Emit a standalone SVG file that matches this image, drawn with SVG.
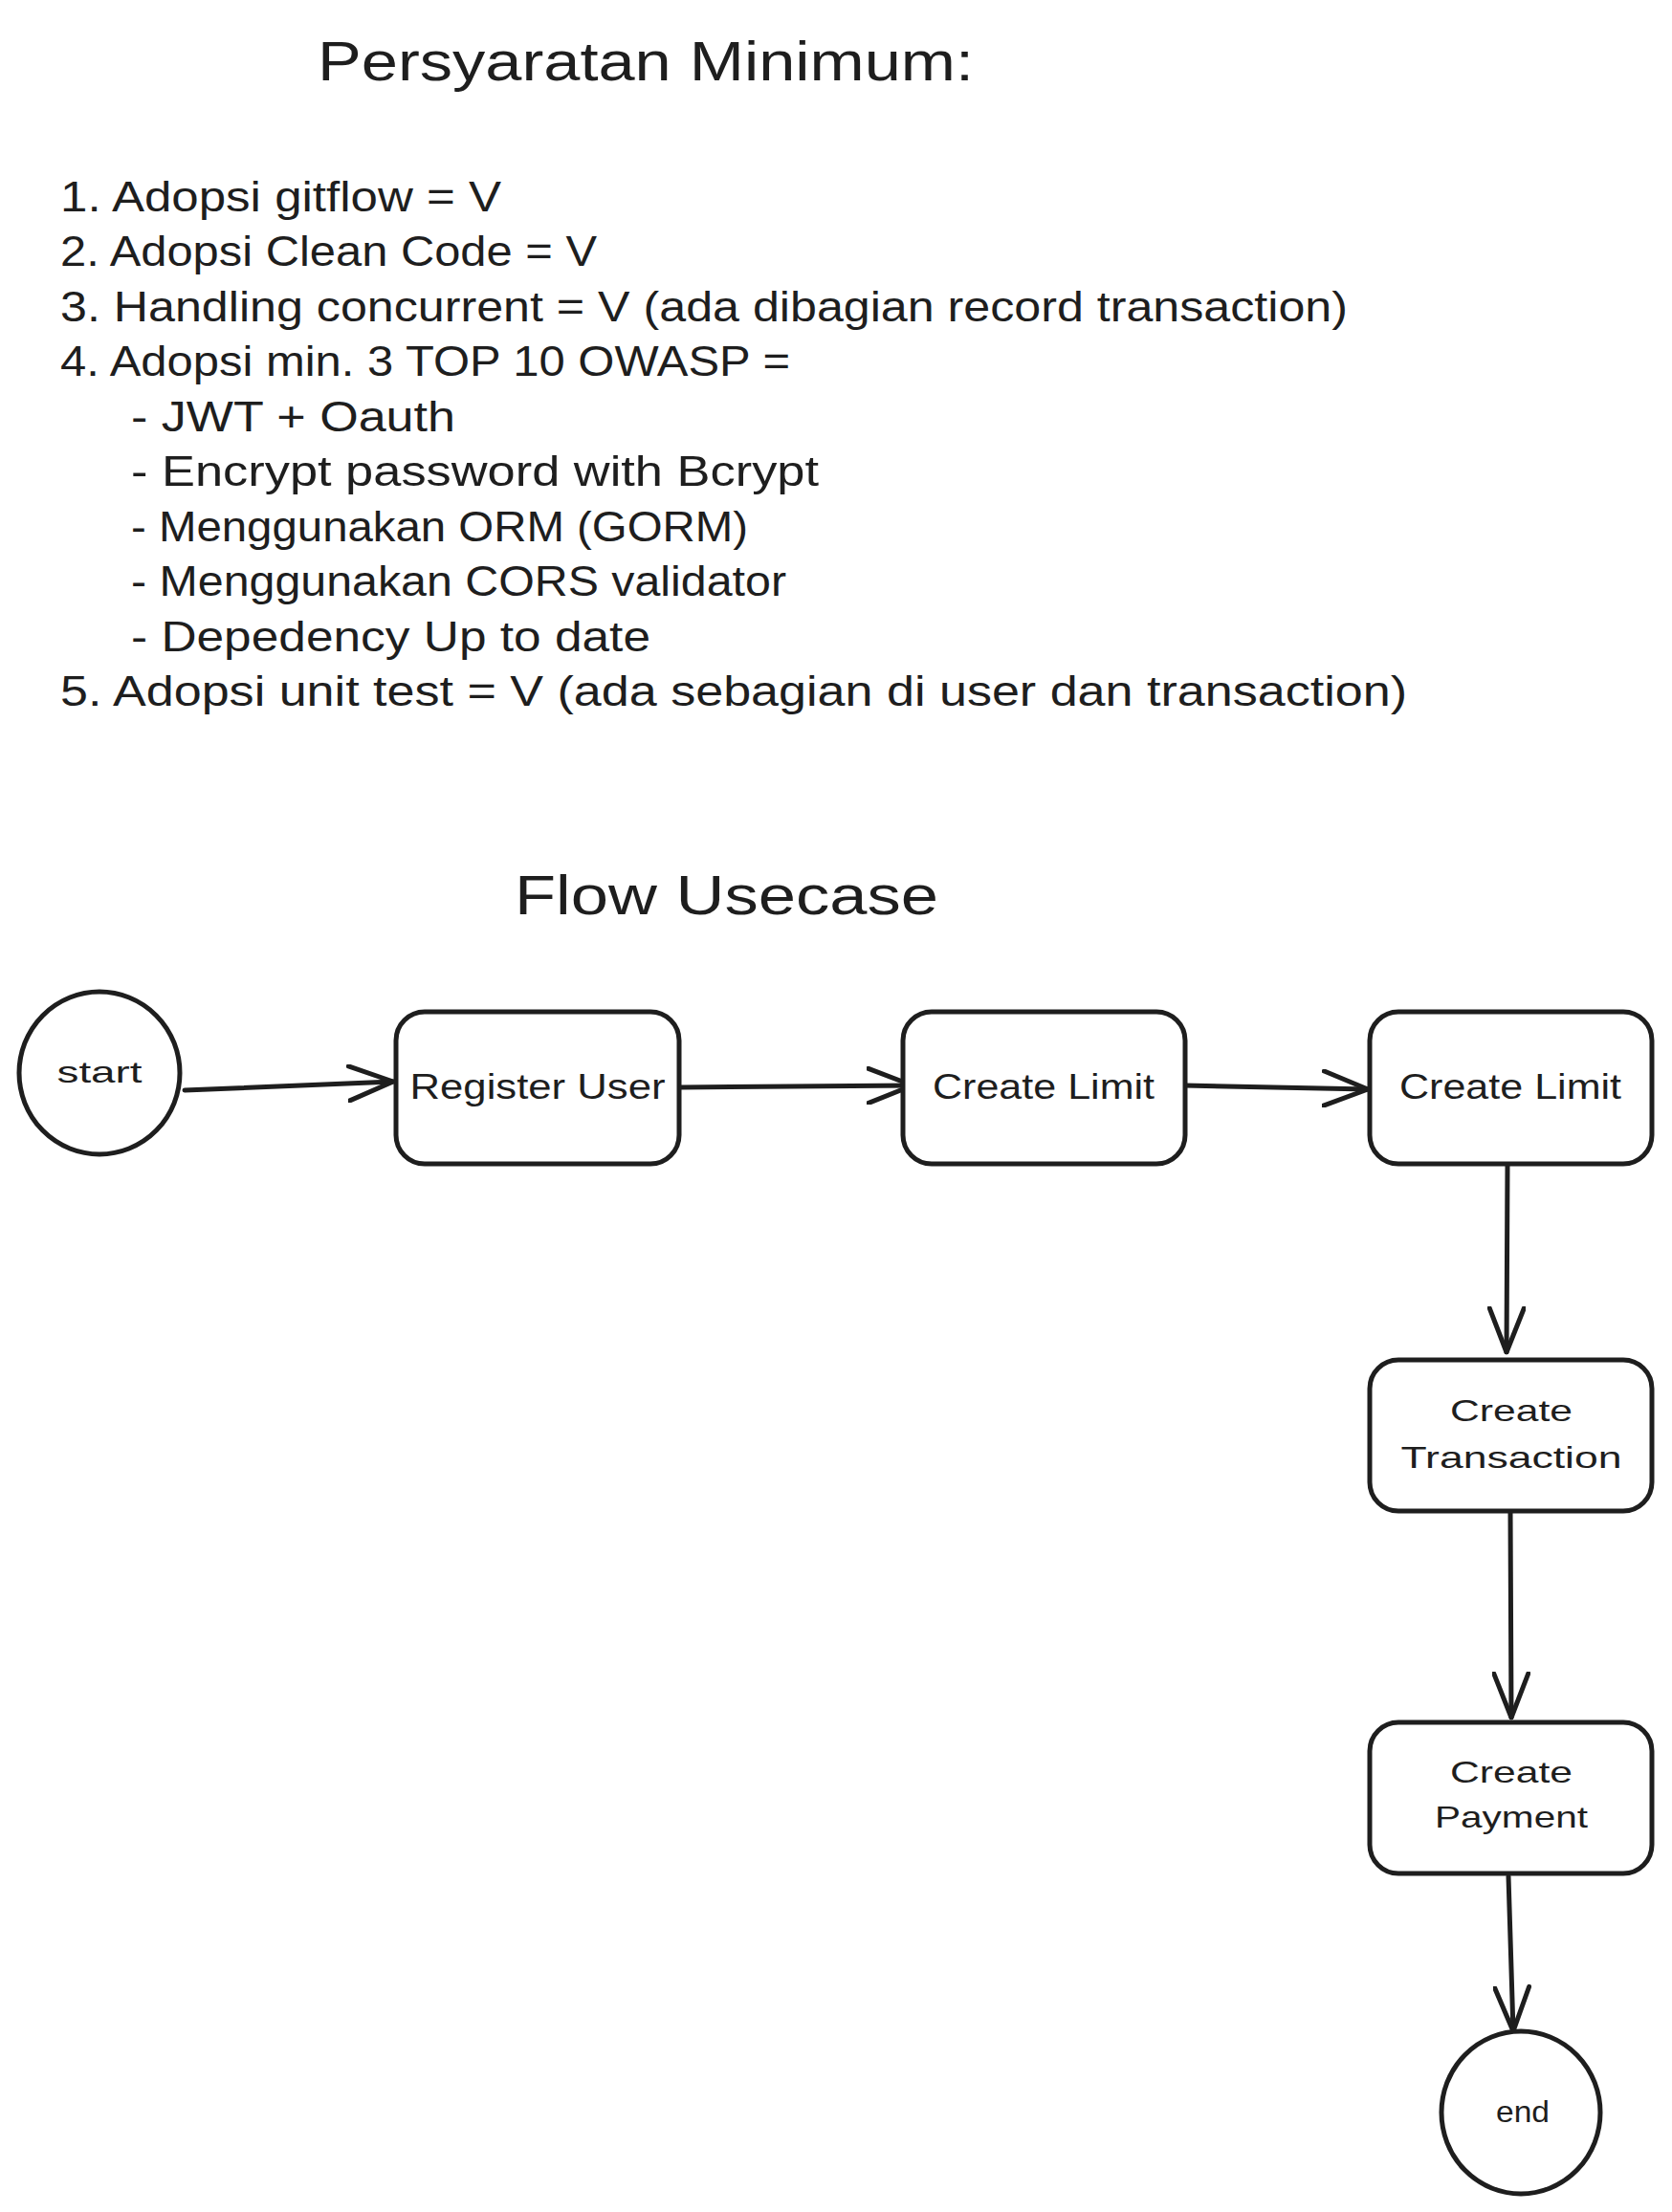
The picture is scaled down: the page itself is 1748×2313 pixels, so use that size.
<svg xmlns="http://www.w3.org/2000/svg" width="1748" height="2313" viewBox="0 0 1748 2313">
<style>
.bg{fill:#ffffff}
.t{font-family:"Liberation Sans","DejaVu Sans",sans-serif;fill:#1e1e1e}
.list{font-size:44px}
.title{font-size:58px}
.lbl{font-size:36px}
.lbl2{font-size:32px}
.shape{fill:#ffffff;stroke:#1e1e1e;stroke-width:5}
.conn{fill:none;stroke:#1e1e1e;stroke-width:5;stroke-linecap:round;stroke-linejoin:round}
</style>
<defs>
<marker id="arr" viewBox="0 0 50 40" refX="48" refY="20" markerWidth="50" markerHeight="40" markerUnits="userSpaceOnUse" orient="auto">
<path d="M2,2 L48,20 L2,38" fill="none" stroke="#1e1e1e" stroke-width="5" stroke-linecap="round" stroke-linejoin="round"/>
</marker>
</defs>
<rect class="bg" x="0" y="0" width="1748" height="2313"/>

<g id="title-requirements">
<text class="t title" x="332" y="84" textLength="686" lengthAdjust="spacingAndGlyphs">Persyaratan Minimum:</text>
</g>
<g id="requirements-list">
<text class="t list" x="63" y="221" textLength="461" lengthAdjust="spacingAndGlyphs">1. Adopsi gitflow = V</text>
<text class="t list" x="63" y="278" textLength="561" lengthAdjust="spacingAndGlyphs">2. Adopsi Clean Code = V</text>
<text class="t list" x="63" y="336" textLength="1346" lengthAdjust="spacingAndGlyphs">3. Handling concurrent = V (ada dibagian record transaction)</text>
<text class="t list" x="63" y="393" textLength="763" lengthAdjust="spacingAndGlyphs">4. Adopsi min. 3 TOP 10 OWASP =</text>
<text class="t list" x="137" y="451" textLength="339" lengthAdjust="spacingAndGlyphs">- JWT + Oauth</text>
<text class="t list" x="137" y="508" textLength="719" lengthAdjust="spacingAndGlyphs">- Encrypt password with Bcrypt</text>
<text class="t list" x="137" y="566" textLength="645" lengthAdjust="spacingAndGlyphs">- Menggunakan ORM (GORM)</text>
<text class="t list" x="137" y="623" textLength="685" lengthAdjust="spacingAndGlyphs">- Menggunakan CORS validator</text>
<text class="t list" x="137" y="681" textLength="543" lengthAdjust="spacingAndGlyphs">- Depedency Up to date</text>
<text class="t list" x="63" y="738" textLength="1408" lengthAdjust="spacingAndGlyphs">5. Adopsi unit test = V (ada sebagian di user dan transaction)</text>
</g>
<g id="title-flow">
<text class="t title" x="538" y="956" textLength="443" lengthAdjust="spacingAndGlyphs">Flow Usecase</text>
</g>

<g id="connectors">
<path class="conn" d="M193,1140 L411,1131" marker-end="url(#arr)"/>
<path class="conn" d="M712,1137 L954,1135" marker-end="url(#arr)"/>
<path class="conn" d="M1238,1135 L1430,1139" marker-end="url(#arr)"/>
<path class="conn" d="M1576,1218 L1575,1414" marker-end="url(#arr)"/>
<path class="conn" d="M1579,1581 L1580,1796" marker-end="url(#arr)"/>
<path class="conn" d="M1577,1962 L1582,2124" marker-end="url(#arr)"/>
</g>

<g id="node-start">
<ellipse class="shape" cx="104" cy="1122" rx="84" ry="85"/>
<text class="t lbl2" x="104" y="1132" text-anchor="middle" textLength="89" lengthAdjust="spacingAndGlyphs">start</text>
</g>
<g id="node-register-user">
<rect class="shape" x="414" y="1058" width="296" height="159" rx="30"/>
<text class="t lbl" x="562" y="1149" text-anchor="middle" textLength="267" lengthAdjust="spacingAndGlyphs">Register User</text>
</g>
<g id="node-create-limit-1">
<rect class="shape" x="944" y="1058" width="295" height="159" rx="30"/>
<text class="t lbl" x="1091" y="1149" text-anchor="middle" textLength="232" lengthAdjust="spacingAndGlyphs">Create Limit</text>
</g>
<g id="node-create-limit-2">
<rect class="shape" x="1432" y="1058" width="295" height="159" rx="30"/>
<text class="t lbl" x="1579" y="1149" text-anchor="middle" textLength="232" lengthAdjust="spacingAndGlyphs">Create Limit</text>
</g>
<g id="node-create-transaction">
<rect class="shape" x="1432" y="1422" width="295" height="158" rx="30"/>
<text class="t lbl2" x="1580" y="1486" text-anchor="middle" textLength="128" lengthAdjust="spacingAndGlyphs">Create</text>
<text class="t lbl2" x="1580" y="1535" text-anchor="middle" textLength="231" lengthAdjust="spacingAndGlyphs">Transaction</text>
</g>
<g id="node-create-payment">
<rect class="shape" x="1432" y="1801" width="295" height="158" rx="30"/>
<text class="t lbl2" x="1580" y="1864" text-anchor="middle" textLength="128" lengthAdjust="spacingAndGlyphs">Create</text>
<text class="t lbl2" x="1580" y="1911" text-anchor="middle" textLength="160" lengthAdjust="spacingAndGlyphs">Payment</text>
</g>
<g id="node-end">
<ellipse class="shape" cx="1590" cy="2209" rx="83" ry="85"/>
<text class="t lbl2" x="1592" y="2219" text-anchor="middle" textLength="56" lengthAdjust="spacingAndGlyphs">end</text>
</g>
</svg>
